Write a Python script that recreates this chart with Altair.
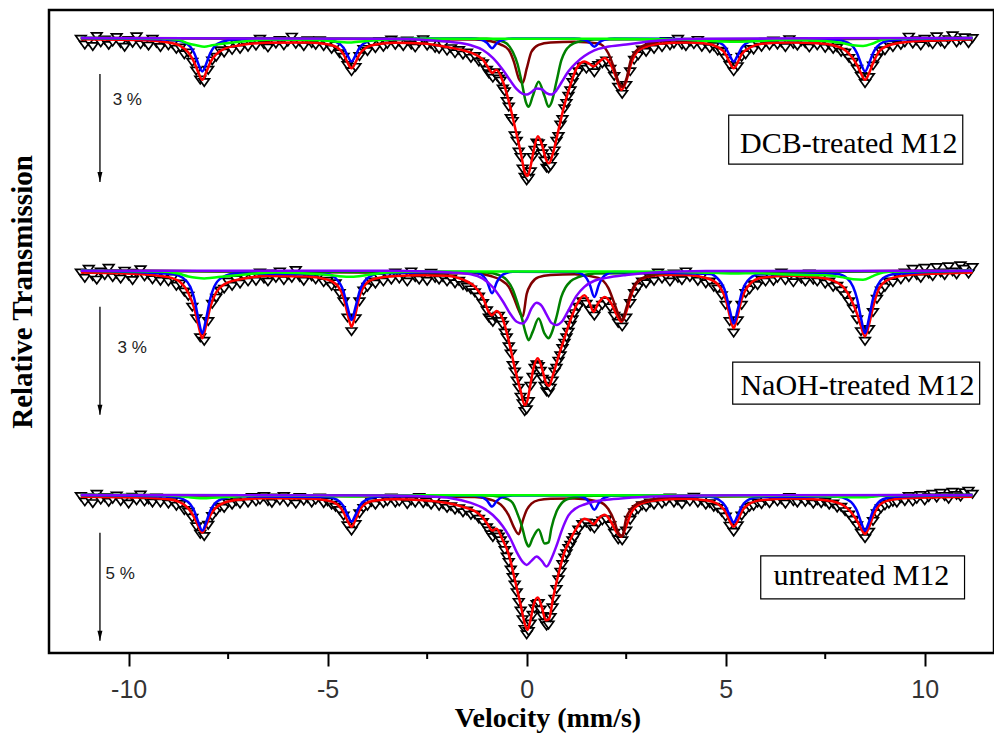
import altair as alt
import numpy as np
import pandas as pd

# ---------------- velocity grids of the measured channels (mm/s) ----------------
V_LEFT = np.round(np.arange(-11.2, -0.95, 0.1), 2)     # -11.2 .. -1.0
V_CENTER = np.round(np.arange(-0.95, 1.21, 0.05), 2)   # -0.95 .. 1.20
V_RIGHT = np.round(np.arange(1.3, 11.25, 0.1), 2)      # 1.3 .. 11.2

# ---------------- measured absorption (% below baseline) ----------------
# DCB-treated M12 (top)
TOP_L = [0.02, 0.18, 0.08, 0.22, -0.06, 0.12, 0.04, 0.19, 0.10, -0.03,
         0.14, 0.24, 0.05, 0.13, -0.05, 0.17, 0.09, 0.21, 0.02, 0.13,
         0.25, 0.10, 0.20, 0.16, 0.30, 0.26, 0.45, 0.40, 0.66, 0.90,
         1.15, 1.22, 0.88, 0.62, 0.52, 0.34, 0.40, 0.22, 0.33, 0.15,
         0.30, 0.12, 0.24, 0.08, 0.21, 0.02, 0.17, 0.26, 0.09, 0.15,
         0.05, 0.20, 0.10, -0.04, 0.16, 0.09, 0.22, 0.06, 0.14, 0.19,
         0.06, 0.22, 0.14, 0.30, 0.20, 0.42, 0.52, 0.75, 0.92, 0.80,
         0.50, 0.30, 0.36, 0.14, 0.28, 0.08, 0.24, 0.16, 0.04, 0.19,
         0.10, 0.22, 0.07, 0.18, 0.26, 0.12, 0.03, 0.21, 0.16, 0.27,
         0.30, 0.18, 0.35, 0.28, 0.42, 0.33, 0.46, 0.40, 0.55, 0.50,
         0.65, 0.70, 0.88]
TOP_C = [0.98, 1.02, 1.10, 0.95, 1.05, 1.12, 1.18, 1.40, 1.48, 1.75,
         1.90, 2.22, 2.30, 2.70, 2.85, 3.15, 3.30, 3.62, 3.85, 3.95,
         3.88, 3.70, 3.30, 3.10, 2.90, 2.92, 3.05, 3.20, 3.40, 3.60,
         3.62, 3.55, 3.30, 3.12, 2.85, 2.72, 2.40, 2.25, 1.95, 1.80,
         1.60, 1.45, 1.22, 1.08]
TOP_R = [0.92, 0.78, 0.85, 0.80, 0.95, 0.75, 0.70, 0.62, 0.85, 1.05,
         1.35, 1.55, 1.30, 0.92, 0.60, 0.48, 0.32, 0.38, 0.20, 0.30,
         0.12, 0.25, 0.08, 0.20, 0.15, 0.02, 0.18, 0.22, 0.10, 0.17,
         0.05, 0.24, 0.14, 0.28, 0.22, 0.35, 0.38, 0.55, 0.75, 0.92,
         0.78, 0.52, 0.45, 0.30, 0.32, 0.15, 0.24, 0.10, 0.20, 0.07,
         0.18, 0.12, 0.25, 0.03, 0.16, 0.21, 0.09, 0.14, 0.26, 0.11,
         0.20, 0.08, 0.27, 0.18, 0.30, 0.26, 0.38, 0.40, 0.55, 0.66,
         0.85, 1.05, 1.25, 1.08, 0.76, 0.55, 0.36, 0.34, 0.18, 0.25,
         0.08, 0.19, 0.12, -0.04, 0.15, 0.06, 0.20, 0.02, 0.11, 0.17,
         -0.05, 0.10, 0.16, 0.03, -0.08, 0.12, 0.05, -0.02, 0.14, 0.00]

# NaOH-treated M12 (middle)
MID_L = [0.05, 0.20, -0.05, 0.15, 0.25, 0.02, 0.12, -0.08, 0.18, 0.08,
         0.22, 0.00, 0.14, 0.26, 0.06, -0.04, 0.16, 0.10, 0.24, 0.12,
         0.28, 0.10, 0.30, 0.20, 0.42, 0.36, 0.58, 0.70, 1.00, 1.32,
         1.85, 1.95, 1.40, 0.92, 0.75, 0.55, 0.50, 0.30, 0.42, 0.24,
         0.36, 0.15, 0.30, 0.12, 0.28, 0.05, 0.22, 0.30, 0.08, 0.20,
         0.02, 0.26, 0.12, 0.20, -0.02, 0.18, 0.28, 0.10, 0.16, 0.24,
         0.10, 0.32, 0.28, 0.42, 0.35, 0.62, 0.85, 1.30, 1.68, 1.32,
         0.85, 0.55, 0.45, 0.30, 0.36, 0.18, 0.30, 0.10, 0.25, 0.05,
         0.22, 0.12, 0.30, 0.02, 0.18, 0.25, 0.10, 0.28, 0.06, 0.20,
         0.25, 0.18, 0.30, 0.22, 0.35, 0.28, 0.40, 0.45, 0.52, 0.60,
         0.72, 0.90, 1.10]
MID_C = [1.30, 1.35, 1.42, 1.28, 1.30, 1.25, 1.40, 1.50, 1.72, 1.85,
         2.10, 2.30, 2.62, 2.80, 3.05, 3.25, 3.50, 3.68, 3.90, 3.85,
         3.62, 3.20, 2.95, 2.70, 2.60, 2.65, 2.78, 3.00, 3.20, 3.35,
         3.38, 3.25, 3.05, 2.80, 2.70, 2.50, 2.35, 2.15, 2.00, 1.85,
         1.70, 1.50, 1.35, 1.18]
MID_R = [1.00, 0.85, 0.92, 1.10, 1.25, 1.05, 0.95, 0.85, 1.02, 1.25,
         1.45, 1.55, 1.30, 0.90, 0.62, 0.45, 0.30, 0.35, 0.20, 0.28,
         0.05, 0.22, 0.14, 0.30, 0.08, 0.20, 0.26, 0.02, 0.18, 0.12,
         0.28, 0.15, 0.35, 0.30, 0.45, 0.50, 0.68, 0.95, 1.40, 1.72,
         1.38, 0.95, 0.62, 0.52, 0.38, 0.40, 0.25, 0.30, 0.12, 0.28,
         0.20, 0.05, 0.26, 0.15, 0.32, 0.10, 0.22, 0.30, 0.08, 0.25,
         0.30, 0.18, 0.36, 0.30, 0.45, 0.42, 0.55, 0.68, 0.85, 1.05,
         1.35, 1.68, 1.95, 1.62, 1.15, 0.78, 0.55, 0.45, 0.30, 0.32,
         0.10, 0.24, 0.05, 0.18, -0.05, 0.12, 0.20, -0.08, 0.08, 0.15,
         -0.10, 0.05, 0.12, -0.12, 0.02, 0.10, -0.15, -0.05, 0.08, -0.10]

# untreated M12 (bottom)
BOT_L = [0.05, 0.30, 0.12, 0.38, -0.05, 0.22, 0.10, 0.32, 0.18, 0.02,
         0.28, 0.15, 0.40, 0.08, 0.25, -0.02, 0.30, 0.20, 0.35, 0.12,
         0.35, 0.15, 0.40, 0.28, 0.50, 0.42, 0.70, 0.78, 1.05, 1.45,
         1.80, 1.90, 1.38, 0.98, 0.75, 0.55, 0.60, 0.35, 0.45, 0.28,
         0.40, 0.15, 0.35, 0.10, 0.30, 0.22, 0.05, 0.28, 0.36, 0.12,
         0.25, 0.05, 0.32, 0.18, 0.40, 0.10, 0.26, 0.15, 0.35, 0.22,
         0.12, 0.38, 0.30, 0.45, 0.55, 0.70, 0.95, 1.40, 1.65, 1.35,
         0.85, 0.60, 0.50, 0.32, 0.45, 0.20, 0.38, 0.28, 0.12, 0.35,
         0.30, 0.15, 0.42, 0.25, 0.35, 0.10, 0.38, 0.30, 0.45, 0.25,
         0.50, 0.42, 0.60, 0.52, 0.68, 0.62, 0.80, 0.72, 0.92, 0.90,
         1.10, 1.25, 1.50]
BOT_C = [1.65, 1.82, 1.95, 1.78, 1.80, 1.92, 2.10, 2.30, 2.55, 2.85,
         3.10, 3.45, 3.80, 4.15, 4.50, 4.95, 5.35, 5.75, 6.20, 6.45,
         6.30, 5.95, 5.55, 5.25, 5.05, 5.00, 5.30, 5.60, 5.90, 6.05,
         6.00, 5.65, 5.20, 4.80, 4.35, 3.90, 3.55, 3.20, 2.90, 2.70,
         2.45, 2.30, 2.10, 1.95]
BOT_R = [1.60, 1.35, 1.28, 1.45, 1.55, 1.30, 1.18, 1.12, 1.40, 1.75,
         2.05, 2.10, 1.65, 1.15, 0.80, 0.65, 0.48, 0.55, 0.35, 0.45,
         0.20, 0.40, 0.28, 0.12, 0.35, 0.25, 0.42, 0.18, 0.30, 0.08,
         0.35, 0.25, 0.45, 0.38, 0.55, 0.60, 0.78, 1.00, 1.42, 1.70,
         1.40, 0.95, 0.72, 0.55, 0.50, 0.35, 0.42, 0.25, 0.38, 0.15,
         0.30, 0.20, 0.40, 0.10, 0.28, 0.35, 0.15, 0.32, 0.22, 0.40,
         0.25, 0.38, 0.30, 0.45, 0.40, 0.58, 0.55, 0.75, 0.90, 1.15,
         1.40, 1.75, 2.00, 1.70, 1.20, 0.85, 0.62, 0.48, 0.40, 0.32,
         0.35, 0.15, 0.28, 0.05, 0.30, 0.18, 0.00, 0.25, 0.10, -0.05,
         0.12, -0.10, 0.05, 0.18, -0.15, 0.00, 0.08, -0.12, -0.20, -0.05]

# ---------------- fitted curves (absorption %, read at the listed velocities) ----------------
RED_V = [-11.2, -9.8, -9.0, -8.7, -8.5, -8.35, -8.25, -8.15, -8.05, -7.95,
         -7.8, -7.6, -7.2, -6.5, -5.5, -5.0, -4.75, -4.6, -4.5, -4.4,
         -4.3, -4.2, -4.05, -3.8, -3.3, -2.6, -2.0, -1.6, -1.3, -1.1,
         -0.95, -0.87, -0.76, -0.6, -0.45, -0.3, -0.15, -0.05, 0.02, 0.1,
         0.18, 0.28, 0.38, 0.48, 0.56, 0.66, 0.8, 0.95, 1.1, 1.25,
         1.45, 1.58, 1.68, 1.8, 1.96, 2.12, 2.25, 2.38, 2.5, 2.62,
         2.78, 3.0, 3.4, 4.0, 4.5, 4.8, 5.0, 5.1, 5.2, 5.3,
         5.4, 5.6, 5.9, 6.6, 7.4, 7.9, 8.15, 8.3, 8.4, 8.5,
         8.6, 8.7, 8.85, 9.1, 9.6, 10.4, 11.2]
RED_TOP = [0.03, 0.05, 0.12, 0.22, 0.4, 0.68, 0.95, 1.16, 0.95, 0.68,
           0.45, 0.3, 0.2, 0.13, 0.12, 0.17, 0.27, 0.45, 0.68, 0.84,
           0.68, 0.45, 0.28, 0.18, 0.13, 0.15, 0.25, 0.34, 0.45, 0.6,
           0.85, 0.97, 0.88, 1.2, 1.75, 2.45, 3.18, 3.72, 3.83, 3.55,
           3.1, 2.73, 2.95, 3.35, 3.48, 3.2, 2.55, 1.85, 1.3, 0.85,
           0.65, 0.72, 0.79, 0.68, 0.55, 0.75, 1.1, 1.44, 1.2, 0.72,
           0.38, 0.24, 0.15, 0.12, 0.15, 0.25, 0.45, 0.68, 0.84, 0.68,
           0.45, 0.27, 0.16, 0.12, 0.15, 0.27, 0.5, 0.75, 0.98, 1.16,
           0.98, 0.7, 0.38, 0.2, 0.1, 0.06, 0.03]
RED_MID = [0.05, 0.09, 0.18, 0.32, 0.62, 1.05, 1.5, 1.88, 1.5, 1.02,
           0.6, 0.38, 0.24, 0.15, 0.16, 0.25, 0.42, 0.75, 1.2, 1.56,
           1.2, 0.72, 0.38, 0.22, 0.15, 0.13, 0.14, 0.25, 0.45, 0.75,
           1.15, 1.24, 1.12, 1.35, 1.95, 2.7, 3.35, 3.74, 3.6, 3.13,
           2.67, 2.43, 2.7, 3.1, 3.2, 2.9, 2.38, 1.87, 1.37, 0.96,
           0.68, 0.9, 1.14, 0.9, 0.73, 0.9, 1.2, 1.42, 1.15, 0.7,
           0.32, 0.18, 0.12, 0.12, 0.2, 0.38, 0.8, 1.25, 1.6, 1.25,
           0.8, 0.38, 0.2, 0.14, 0.2, 0.4, 0.8, 1.2, 1.55, 1.83,
           1.5, 1.02, 0.5, 0.24, 0.12, 0.08, 0.05]
RED_BOT = [0.08, 0.12, 0.2, 0.35, 0.62, 1.05, 1.45, 1.74, 1.4, 0.95,
           0.58, 0.36, 0.22, 0.15, 0.16, 0.26, 0.45, 0.8, 1.2, 1.47,
           1.15, 0.72, 0.4, 0.26, 0.2, 0.24, 0.37, 0.55, 0.75, 1.05,
           1.45, 1.65, 1.56, 2.1, 2.75, 3.9, 5.1, 5.95, 6.25, 5.75,
           5.05, 4.75, 5.2, 5.8, 5.75, 4.8, 3.65, 2.65, 2.05, 1.55,
           1.1, 1.2, 1.36, 1.1, 0.92, 1.25, 1.7, 1.93, 1.45, 0.85,
           0.5, 0.33, 0.22, 0.18, 0.25, 0.42, 0.8, 1.2, 1.47, 1.2,
           0.78, 0.4, 0.24, 0.16, 0.22, 0.42, 0.8, 1.2, 1.55, 1.81,
           1.5, 1.0, 0.5, 0.25, 0.14, 0.11, 0.08]

BLUE_V = [-11.2, -8.9, -8.65, -8.45, -8.35, -8.25, -8.15, -8.05, -7.95, -7.85, -7.65, -7.3,
          -5.0, -4.8, -4.6, -4.5, -4.4, -4.3, -4.2, -4.0, -3.7,
          -1.4, -1.15, -1.0, -0.87, -0.75, -0.6, -0.35,
          1.2, 1.45, 1.58, 1.7, 1.82, 1.95, 2.2,
          4.6, 4.8, 5.0, 5.1, 5.2, 5.3, 5.4, 5.6, 5.85,
          7.8, 8.05, 8.2, 8.3, 8.4, 8.5, 8.6, 8.7, 8.95, 9.25, 11.2]
BLUE_TOP = [0, 0.05, 0.10, 0.24, 0.42, 0.71, 0.93, 0.71, 0.42, 0.24, 0.10, 0.04,
            0.05, 0.10, 0.27, 0.48, 0.65, 0.48, 0.27, 0.10, 0.04,
            0.01, 0.04, 0.13, 0.28, 0.14, 0.05, 0.01,
            0.01, 0.05, 0.12, 0.24, 0.12, 0.05, 0.01,
            0.04, 0.10, 0.27, 0.48, 0.65, 0.48, 0.27, 0.10, 0.05,
            0.05, 0.12, 0.24, 0.42, 0.71, 0.93, 0.71, 0.42, 0.12, 0.05, 0]
BLUE_MID = [0, 0.09, 0.19, 0.45, 0.78, 1.32, 1.74, 1.32, 0.78, 0.45, 0.19, 0.08,
            0.10, 0.21, 0.58, 1.01, 1.37, 1.01, 0.58, 0.21, 0.08,
            0.03, 0.10, 0.29, 0.63, 0.32, 0.11, 0.03,
            0.04, 0.14, 0.37, 0.73, 0.37, 0.14, 0.04,
            0.09, 0.22, 0.62, 1.09, 1.47, 1.09, 0.62, 0.22, 0.10,
            0.09, 0.21, 0.45, 0.78, 1.32, 1.74, 1.32, 0.78, 0.21, 0.09, 0]
BLUE_BOT = [0, 0.08, 0.18, 0.43, 0.74, 1.25, 1.65, 1.25, 0.74, 0.43, 0.18, 0.07,
            0.09, 0.19, 0.52, 0.92, 1.24, 0.92, 0.52, 0.19, 0.07,
            0.03, 0.09, 0.25, 0.54, 0.27, 0.09, 0.03,
            0.03, 0.13, 0.35, 0.69, 0.35, 0.13, 0.03,
            0.08, 0.19, 0.54, 0.95, 1.28, 0.95, 0.54, 0.19, 0.09,
            0.08, 0.20, 0.43, 0.74, 1.25, 1.65, 1.25, 0.74, 0.20, 0.08, 0]

LIME_V = [-11.2, -9.2, -8.75, -8.5, -8.3, -8.1, -7.9, -7.6, -7.2, -6.8,
          -6.3, -5.2, -4.75, -4.4, -4.0, -3.5, -2.5, -0.9, 1.7, 3.6,
          4.6, 5.2, 5.8, 6.4, 7.5, 7.9, 8.2, 8.45, 8.7, 8.95, 9.3, 11.2]
LIME_TOP = [0, 0.01, 0.05, 0.15, 0.2, 0.24, 0.2, 0.15, 0.1, 0.06,
            0.04, 0.06, 0.1, 0.12, 0.08, 0.04, 0.02, 0.02, 0.02, 0.03,
            0.08, 0.1, 0.08, 0.05, 0.08, 0.13, 0.2, 0.22, 0.15, 0.04, 0.01, 0]
LIME_MID = [0, 0.02, 0.08, 0.16, 0.2, 0.22, 0.2, 0.16, 0.12, 0.08,
            0.05, 0.1, 0.15, 0.17, 0.12, 0.05, 0.02, 0.02, 0.02, 0.03,
            0.06, 0.08, 0.07, 0.1, 0.13, 0.18, 0.24, 0.25, 0.15, 0.05, 0.02, 0]
LIME_BOT = [0, 0.01, 0.05, 0.1, 0.14, 0.15, 0.13, 0.1, 0.06, 0.03,
            0.02, 0.04, 0.06, 0.07, 0.05, 0.02, 0.01, 0.01, 0.01, 0.02,
            0.05, 0.06, 0.05, 0.03, 0.06, 0.09, 0.11, 0.11, 0.08, 0.03, 0.01, 0]

DG_V = [-11.2, -1.0, -0.7, -0.5, -0.35, -0.23, -0.12, -0.02, 0.05, 0.15,
        0.3, 0.45, 0.55, 0.62, 0.75, 0.87, 0.97, 1.1, 1.3, 1.7, 11.2]
DG_TOP = [0, 0.02, 0.06, 0.15, 0.38, 0.72, 1.25, 1.78, 1.91, 1.62,
          1.21, 1.62, 1.91, 1.8, 1.2, 0.62, 0.36, 0.2, 0.1, 0.04, 0]
DG_MID = [0, 0.05, 0.12, 0.26, 0.52, 0.9, 1.32, 1.75, 1.93, 1.7,
          1.33, 1.75, 1.88, 1.75, 1.28, 0.73, 0.48, 0.3, 0.18, 0.08, 0]
DG_BOT = [0, 0.03, 0.07, 0.18, 0.37, 0.88, 1.45, 2.15, 2.39, 2.0,
          1.6, 2.25, 2.2, 1.54, 0.77, 0.4, 0.24, 0.15, 0.09, 0.04, 0]

PU_V = [-11.2, -3.5, -2.5, -1.9, -1.4, -1.1, -0.85, -0.6, -0.4, -0.25,
        -0.1, 0.0, 0.12, 0.25, 0.38, 0.5, 0.62, 0.75, 0.88, 1.05,
        1.25, 1.45, 1.7, 2.0, 2.5, 3.2, 4.5, 11.2]
PU_TOP = [0, 0.02, 0.05, 0.11, 0.2, 0.33, 0.55, 0.88, 1.2, 1.42,
          1.55, 1.57, 1.5, 1.4, 1.42, 1.53, 1.57, 1.45, 1.22, 0.92,
          0.68, 0.5, 0.34, 0.25, 0.18, 0.08, 0.02, 0]
PU_MID = [0, 0.0, 0.02, 0.05, 0.1, 0.22, 0.46, 0.85, 1.22, 1.42,
          1.47, 1.35, 1.05, 0.89, 0.98, 1.22, 1.45, 1.51, 1.42, 1.1,
          0.7, 0.45, 0.28, 0.2, 0.12, 0.05, 0.01, 0]
PU_BOT = [0, 0.03, 0.07, 0.15, 0.37, 0.6, 0.93, 1.45, 2.05, 2.65,
          3.1, 3.24, 3.05, 2.85, 3.05, 3.31, 2.95, 2.35, 1.65, 0.95,
          0.6, 0.44, 0.3, 0.22, 0.14, 0.07, 0.02, 0]

DR_V = [-11.2, -1.3, -0.9, -0.65, -0.45, -0.32, -0.2, -0.1, 0.0, 0.12,
        0.3, 0.6, 1.2, 1.8, 2.05, 2.2, 2.3, 2.4, 2.5, 2.62,
        2.8, 3.1, 3.6, 11.2]
DR_TOP = [0, 0.04, 0.09, 0.18, 0.33, 0.66, 1.12, 1.24, 0.85, 0.38,
          0.19, 0.12, 0.1, 0.15, 0.42, 0.85, 1.2, 1.35, 1.15, 0.6,
          0.3, 0.15, 0.07, 0]
DR_MID = [0, 0.07, 0.15, 0.26, 0.45, 0.76, 1.1, 1.28, 0.65, 0.35,
          0.18, 0.12, 0.1, 0.2, 0.48, 0.9, 1.2, 1.38, 1.05, 0.62,
          0.28, 0.14, 0.06, 0]
DR_BOT = [0, 0.1, 0.22, 0.45, 0.95, 1.5, 1.82, 1.2, 0.7, 0.4,
          0.24, 0.18, 0.16, 0.3, 0.65, 1.2, 1.75, 1.9, 1.08, 0.65,
          0.38, 0.23, 0.1, 0]

# ---------------- layout of the stack (plot units) ----------------
OFFSET = {"top": 17.08, "mid": 10.62, "bot": 4.39}   # baseline of each spectrum
GAIN = {"top": 1.0, "mid": 1.0, "bot": 0.6}          # 3 %, 3 %, 5 % scale bars of equal length


def to_y(depth, key):
    return OFFSET[key] - np.asarray(depth, dtype=float) * GAIN[key]


def check(name, a, b):
    if len(a) != len(b):
        raise ValueError(f"{name}: {len(a)} vs {len(b)}")


# points
pts_frames = []
for key, parts in {"top": (TOP_L, TOP_C, TOP_R),
                   "mid": (MID_L, MID_C, MID_R),
                   "bot": (BOT_L, BOT_C, BOT_R)}.items():
    for grid, vals, tag in zip((V_LEFT, V_CENTER, V_RIGHT), parts, ("L", "C", "R")):
        check(f"{key}{tag}", grid, vals)
        pts_frames.append(pd.DataFrame({"v": grid, "y": to_y(vals, key), "s": key}))
df_pts = pd.concat(pts_frames, ignore_index=True)

# curves
COMPONENTS = [
    ("red", RED_V, {"top": RED_TOP, "mid": RED_MID, "bot": RED_BOT}, "#ff0000"),
    ("darkred", DR_V, {"top": DR_TOP, "mid": DR_MID, "bot": DR_BOT}, "#800000"),
    ("darkgreen", DG_V, {"top": DG_TOP, "mid": DG_MID, "bot": DG_BOT}, "#008000"),
    ("blue", BLUE_V, {"top": BLUE_TOP, "mid": BLUE_MID, "bot": BLUE_BOT}, "#0000ff"),
    ("lime", LIME_V, {"top": LIME_TOP, "mid": LIME_MID, "bot": LIME_BOT}, "#00ff00"),
    ("purple", PU_V, {"top": PU_TOP, "mid": PU_MID, "bot": PU_BOT}, "#8000ff"),
]

XS = alt.Scale(domain=[-12.0, 11.74], nice=False, zero=False)
YS = alt.Scale(domain=[0, 17.86], nice=False, zero=False)
XAX = alt.Axis(values=[-10, -5, 0, 5, 10], labelExpr="'' + datum.value",
               title="Velocity (mm/s)", grid=False, domain=False,
               tickSize=13, tickWidth=2, tickColor="black",
               labelFont="Liberation Sans", labelFontSize=25, labelColor="#333333",
               labelBaseline="alphabetic", labelPadding=31, labelFlush=False,
               titleFont="Liberation Serif", titleFontWeight="bold", titleFontSize=28,
               titleColor="black", titleX=498.5, titleY=73.7,
               titleBaseline="alphabetic", titleAlign="center")
YAX = alt.Axis(title="Relative Transmission", labels=False, ticks=False, domain=False, grid=False,
               titleFont="Liberation Serif", titleFontWeight="bold", titleFontSize=29,
               titleColor="black", titleX=-17.3, titleY=281.5,
               titleBaseline="alphabetic", titleAlign="center")


def X(f="v"):
    return alt.X(f"{f}:Q", scale=XS, axis=XAX)


def Y(f="y"):
    return alt.Y(f"{f}:Q", scale=YS, axis=YAX)


TRI = "M-1,-0.6L1,-0.6L0,0.8Z"
layers = [
    alt.Chart(df_pts).mark_point(shape=TRI, size=110, fill="white", fillOpacity=1,
                                 stroke="black", strokeWidth=1.7, opacity=1)
    .encode(x=X(), y=Y())
]

for name, grid, series, color in COMPONENTS:
    frames = []
    for key, vals in series.items():
        check(f"{name}-{key}", grid, vals)
        frames.append(pd.DataFrame({"v": grid, "y": to_y(vals, key), "s": key}))
    dfc = pd.concat(frames, ignore_index=True)
    layers.append(
        alt.Chart(dfc).mark_line(color=color, strokeWidth=2.5, interpolate="monotone")
        .encode(x=X(), y=Y(), detail="s:N")
    )

# minor ticks on the velocity axis
MINOR = [-7.5, -2.5, 2.5, 7.5]
df_minor = pd.DataFrame({"v": MINOR, "y": 0.0, "y2": 0.0})
layers.append(alt.Chart(df_minor).mark_rule(color="black", strokeWidth=2, y2Offset=6)
              .encode(x=X(), y=Y(), y2="y2:Q"))

# scale arrows
ARROW_V = -10.72
ARROWS = [("top", 1.0, 4.0), ("mid", 1.0, 4.0), ("bot", 1.75, 6.75)]
df_arrow = pd.DataFrame({
    "v": [ARROW_V] * 3,
    "y": [float(to_y(a, k)) for k, a, b in ARROWS],
    "y2": [float(to_y(b, k)) for k, a, b in ARROWS],
})
layers.append(alt.Chart(df_arrow).mark_rule(color="black", strokeWidth=1.3)
              .encode(x=X(), y=Y(), y2="y2:Q"))
df_head = pd.DataFrame({"v": [ARROW_V] * 3, "y": df_arrow["y2"]})
layers.append(alt.Chart(df_head).mark_point(shape="M-0.5,-1L0.5,-1L0,1Z", size=100, filled=True,
                                            color="black", opacity=1, yOffset=-5)
              .encode(x=X(), y=Y()))

SCALE_LABELS = [("top", -10.40, 1.72, "3 %"), ("mid", -10.28, 2.15, "3 %"), ("bot", -10.58, 3.66, "5 %")]
df_sl = pd.DataFrame({"v": [a for _, a, _, _ in SCALE_LABELS],
                      "y": [float(to_y(d, k)) for k, _, d, _ in SCALE_LABELS],
                      "t": [t for _, _, _, t in SCALE_LABELS]})
layers.append(alt.Chart(df_sl).mark_text(font="Liberation Sans", fontSize=17, align="left",
                                         baseline="middle", color="#222222")
              .encode(x=X(), y=Y(), text="t:N"))

# sample label boxes
BOXES = [("top", 5.075, 10.955, 2.14, 3.50, 8.09, 3.19, "DCB-treated M12"),
         ("mid", 5.176, 11.38, 2.54, 3.71, 8.31, 3.46, "NaOH-treated M12"),
         ("bot", 5.88, 11.00, 2.82, 4.81, 8.41, 4.17, "untreated M12")]
df_box = pd.DataFrame({"v": [b[1] for b in BOXES], "v2": [b[2] for b in BOXES],
                       "y": [float(to_y(b[3], b[0])) for b in BOXES],
                       "y2": [float(to_y(b[4], b[0])) for b in BOXES]})
layers.append(alt.Chart(df_box).mark_rect(fill="white", stroke="black", strokeWidth=1.2)
              .encode(x=X(), x2="v2:Q", y=Y(), y2="y2:Q"))
df_bt = pd.DataFrame({"v": [b[5] for b in BOXES],
                      "y": [float(to_y(b[6], b[0])) for b in BOXES],
                      "t": [b[7] for b in BOXES]})
layers.append(alt.Chart(df_bt).mark_text(font="Liberation Serif", fontSize=30, align="center",
                                         baseline="alphabetic", color="black")
              .encode(x=X(), y=Y(), text="t:N"))

chart = (
    alt.layer(*layers)
    .properties(width=945, height=643,
                padding={"left": 49, "top": 10, "right": 0, "bottom": 83},
                autosize=alt.AutoSizeParams(type="none"),
                background="white")
    .configure_view(stroke="black", strokeWidth=2.5)
)

chart.save("out.html", embed_options={"renderer": "svg", "actions": False})
